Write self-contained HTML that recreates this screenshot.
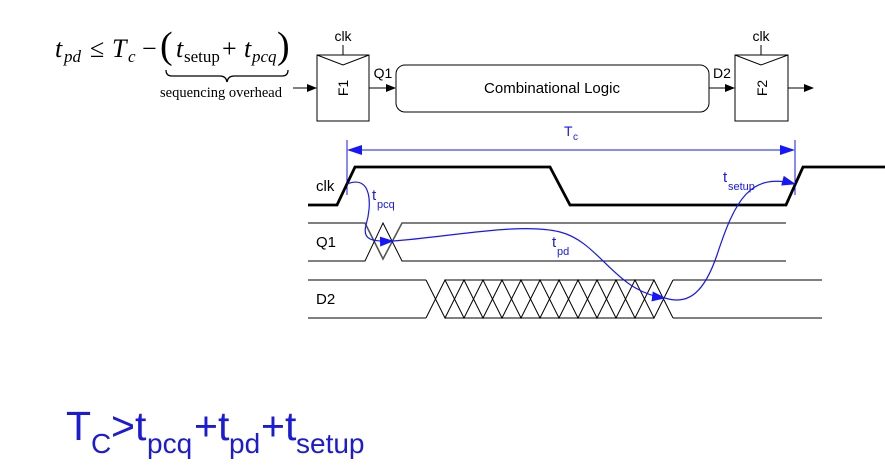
<!DOCTYPE html>
<html><head><meta charset="utf-8"><style>
html,body{margin:0;padding:0;background:#fff;width:885px;height:465px;overflow:hidden}
svg{display:block}
.s{font-family:"Liberation Sans",sans-serif}
.r{font-family:"Liberation Serif",serif}
</style></head><body>
<svg width="885" height="465" viewBox="0 0 885 465" xmlns="http://www.w3.org/2000/svg">
<defs>
<marker id="ab" markerWidth="10" markerHeight="8" refX="9" refY="4" orient="auto" markerUnits="userSpaceOnUse"><path d="M0,0 L10,4 L0,8 z" fill="#000"/></marker>
<marker id="bb" markerWidth="14" markerHeight="10" refX="13" refY="5" orient="auto" markerUnits="userSpaceOnUse"><path d="M0,0 L14,5 L0,10 z" fill="#1515ff"/></marker>
</defs>

<!-- formula -->
<g class="r" font-size="26" fill="#000">
<text x="55" y="57" font-style="italic">t</text>
<text x="64" y="62" font-size="17" font-style="italic">pd</text>
<text x="90" y="57">≤</text>
<text x="112" y="57" font-style="italic">T</text>
<text x="128" y="62" font-size="17" font-style="italic">c</text>
<text x="142" y="57">−</text>
<text x="160" y="58" font-size="38">(</text>
<text x="176" y="57" font-style="italic">t</text>
<text x="184" y="62" font-size="17">setup</text>
<text x="222" y="57">+</text>
<text x="244" y="57" font-style="italic">t</text>
<text x="252" y="62" font-size="17" font-style="italic">pcq</text>
<text x="277" y="58" font-size="38">)</text>
</g>
<path d="M166,70 Q166,76 172,76 L220,76 Q226,76 227,82 Q228,76 234,76 L282,76 Q288,76 288,70" fill="none" stroke="#000" stroke-width="1.3"/>
<text x="160" y="97" class="r" font-size="14.5">sequencing overhead</text>

<!-- flops -->
<g stroke="#000" stroke-width="1" fill="none">
<line x1="293" y1="88" x2="316" y2="88" marker-end="url(#ab)"/>
<rect x="317" y="55" width="52" height="66" fill="#fff"/>
<polyline points="317,55 343,65 369,55"/>
<line x1="343" y1="45" x2="343" y2="55"/>
<line x1="369" y1="88" x2="395" y2="88" marker-end="url(#ab)"/>
<rect x="396" y="65" width="313" height="47" rx="9"/>
<line x1="709" y1="88" x2="734" y2="88" marker-end="url(#ab)"/>
<rect x="735" y="55" width="53" height="66" fill="#fff"/>
<polyline points="735,55 761,65 788,55"/>
<line x1="761" y1="45" x2="761" y2="55"/>
<line x1="788" y1="88" x2="813" y2="88" marker-end="url(#ab)"/>
</g>
<g class="s" font-size="14" fill="#000">
<text x="343" y="41" text-anchor="middle">clk</text>
<text x="761" y="41" text-anchor="middle">clk</text>
<text x="383" y="78" text-anchor="middle">Q1</text>
<text x="722" y="78" text-anchor="middle">D2</text>
<text x="552" y="93" text-anchor="middle" font-size="15">Combinational Logic</text>
<text transform="translate(348,88) rotate(-90)" text-anchor="middle">F1</text>
<text transform="translate(767,88) rotate(-90)" text-anchor="middle">F2</text>
</g>

<!-- Tc -->
<g stroke="#1515ff" stroke-width="1" fill="none">
<line x1="347" y1="140" x2="347" y2="195"/>
<line x1="795" y1="140" x2="795" y2="195"/>
<line x1="360" y1="150" x2="782" y2="150"/>
</g>
<path d="M347,150 L362,145 L362,155 z" fill="#1515ff"/>
<path d="M795,150 L780,145 L780,155 z" fill="#1515ff"/>
<text x="564" y="136" class="s" font-size="14" fill="#1515ff">T</text>
<text x="573" y="140" class="s" font-size="10" fill="#1515ff">c</text>

<!-- clk waveform -->
<polyline points="308,205 337,205 355,167 550,167 570,205 786,205 803,167 885,167" fill="none" stroke="#000" stroke-width="2.8"/>
<g stroke="#000" stroke-width="1" fill="none">
<polyline points="308,223 365,223 383,259 402,223 786,223" stroke="#555" stroke-width="1.6"/>
<polyline points="308,261 365,261 383,223 402,261 786,261"/>
<line x1="308" y1="280" x2="426" y2="280" stroke="#555" stroke-width="1.5"/>
<line x1="308" y1="318" x2="426" y2="318"/>
<line x1="673" y1="280" x2="822" y2="280" stroke="#555" stroke-width="1.5"/>
<line x1="673" y1="318" x2="822" y2="318"/>
<line x1="445" y1="280" x2="654" y2="280"/>
<line x1="445" y1="318" x2="654" y2="318"/>
<polyline points="426,280 445,318 464,280 483,318 502,280 521,318 540,280 559,318 578,280 597,318 616,280 635,318 654,280 673,318"/>
<polyline points="426,318 445,280 464,318 483,280 502,318 521,280 540,318 559,280 578,318 597,280 616,318 635,280 654,318 673,280"/>
</g>
<g class="s" font-size="15" fill="#000">
<text x="316" y="191">clk</text>
<text x="316" y="247">Q1</text>
<text x="316" y="304">D2</text>
</g>

<!-- blue curves -->
<g stroke="#1515ff" stroke-width="1.2" fill="none">
<path d="M347,184 C372,174 372,205 366,225 C362,240 372,242 393,241" marker-end="url(#bb)"/>
<path d="M393,241 C450,237 520,222 560,232 C600,242 615,292 665,298" marker-end="url(#bb)"/>
<path d="M665,298 C690,306 705,290 717,255 C735,200 750,172 795,184" marker-end="url(#bb)"/>
</g>
<g class="s" fill="#1515ff">
<text x="372" y="200" font-size="15">t</text><text x="377" y="208" font-size="11">pcq</text>
<text x="552" y="247" font-size="15">t</text><text x="557" y="255" font-size="11">pd</text>
<text x="723" y="182" font-size="15">t</text><text x="728" y="190" font-size="11">setup</text>
</g>

<!-- bottom formula -->
<g class="s" fill="#1a1ad8">
<text x="66" y="440" font-size="41">T</text>
<text x="91" y="453" font-size="28">C</text>
<text x="111" y="440" font-size="41">&gt;t</text>
<text x="147" y="453" font-size="28">pcq</text>
<text x="194" y="440" font-size="41">+t</text>
<text x="229" y="453" font-size="28">pd</text>
<text x="261" y="440" font-size="41">+t</text>
<text x="296" y="453" font-size="28">setup</text>
</g>
</svg>
</body></html>
